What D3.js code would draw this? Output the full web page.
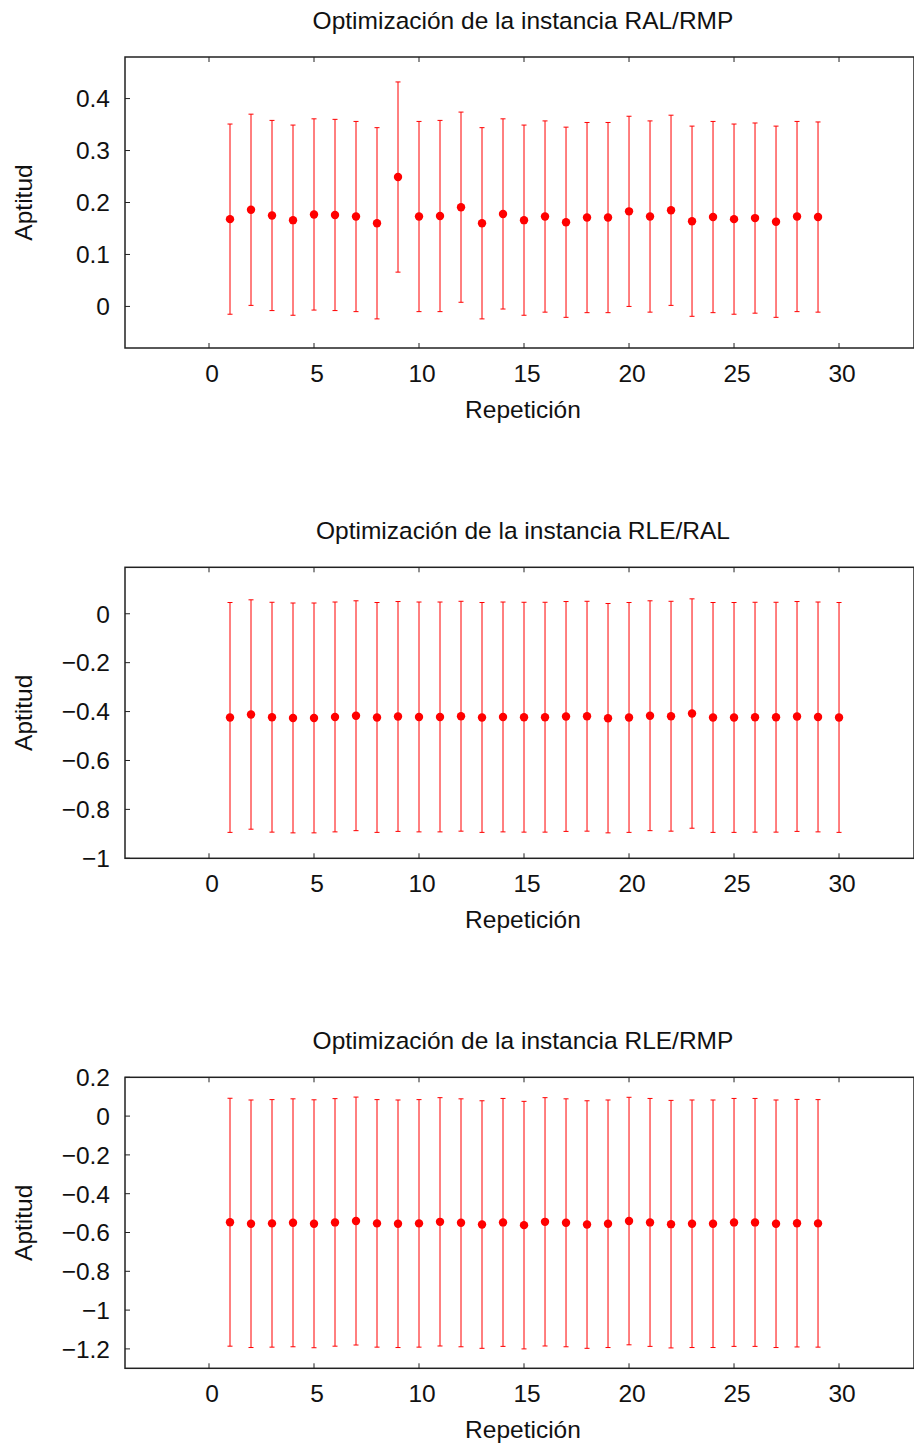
<!DOCTYPE html>
<html>
<head>
<meta charset="utf-8">
<script src="https://cdn.jsdelivr.net/npm/d3@7"></script>
<style>
  body { margin: 0; background: #fff; }
  text { font-family: "Liberation Sans", Arial, sans-serif; fill: #111; font-size: 24.5px; }
</style>
</head>
<body>
<div id="a"></div>
<script>
// repeticiones (eje x)
var reps29 = [1,2,3,4,5,6,7,8,9,10,11,12,13,14,15,16,17,18,19,20,21,22,23,24,25,26,27,28,29],
    reps30 = [1,2,3,4,5,6,7,8,9,10,11,12,13,14,15,16,17,18,19,20,21,22,23,24,25,26,27,28,29,30];

// RAL/RMP
var ralRmpMean = [0.168,0.186,0.175,0.166,0.177,0.176,0.173,0.160,0.249,0.173,0.174,0.191,0.160,0.178,0.166,0.173,0.162,0.171,0.171,0.183,0.173,0.185,0.164,0.172,0.168,0.170,0.163,0.173,0.172],
    ralRmpErr  = [0.183,0.184,0.183,0.183,0.184,0.184,0.183,0.184,0.183,0.183,0.184,0.183,0.184,0.183,0.183,0.184,0.183,0.183,0.183,0.183,0.184,0.183,0.183,0.184,0.183,0.183,0.184,0.183,0.183];

// RLE/RAL
var rleRalMean = [-0.424,-0.412,-0.423,-0.426,-0.426,-0.422,-0.417,-0.424,-0.420,-0.422,-0.422,-0.419,-0.424,-0.422,-0.423,-0.423,-0.420,-0.419,-0.427,-0.424,-0.417,-0.419,-0.408,-0.424,-0.424,-0.423,-0.423,-0.420,-0.422,-0.424],
    rleRalErr  = [0.470,0.469,0.470,0.470,0.470,0.470,0.470,0.470,0.470,0.470,0.470,0.470,0.470,0.470,0.470,0.470,0.470,0.470,0.469,0.470,0.470,0.470,0.469,0.470,0.470,0.470,0.470,0.470,0.470,0.470];

// RLE/RMP
var rleRmpMean = [-0.547,-0.555,-0.553,-0.550,-0.555,-0.548,-0.541,-0.553,-0.555,-0.553,-0.545,-0.550,-0.559,-0.548,-0.562,-0.545,-0.550,-0.559,-0.555,-0.541,-0.548,-0.557,-0.555,-0.555,-0.548,-0.548,-0.555,-0.552,-0.553],
    rleRmpErr  = [0.639,0.638,0.638,0.639,0.639,0.638,0.639,0.638,0.638,0.638,0.640,0.639,0.638,0.639,0.638,0.640,0.639,0.638,0.638,0.638,0.639,0.638,0.638,0.638,0.639,0.639,0.638,0.638,0.638];

var titles  = ["Optimización de la instancia RAL/RMP", "Optimización de la instancia RLE/RAL", "Optimización de la instancia RLE/RMP"],
    xTicks  = [0,5,10,15,20,25,30],
    yTicks1 = [0,0.1,0.2,0.3,0.4],
    yTicks2 = [-1,-0.8,-0.6,-0.4,-0.2,0],
    yTicks3 = [-1.2,-1,-0.8,-0.6,-0.4,-0.2,0,0.2],
    xLabel  = "Repetición",
    yLabel  = "Aptitud";

var W = 914, H = 1443;
var left = 125, right = 914, plotH = 291;

var svg = d3.select("#a").append("svg")
  .attr("width", W)
  .attr("height", H);

var x = d3.scaleLinear().domain([-4, 33.57]).range([left, right]);
var fmt = d3.format("~g");

var panels = [
  {top: 57,     dom: [-0.08, 0.48], ticks: yTicks1, reps: reps29, mean: ralRmpMean, err: ralRmpErr},
  {top: 567.3,  dom: [-1, 0.19],    ticks: yTicks2, reps: reps30, mean: rleRalMean, err: rleRalErr},
  {top: 1077.3, dom: [-1.3, 0.2],   ticks: yTicks3, reps: reps29, mean: rleRmpMean, err: rleRmpErr}
];

panels.forEach(function(p, k) {
  var y = d3.scaleLinear().domain(p.dom).range([p.top + plotH, p.top]);
  var g = svg.append("g");
  var bottom = p.top + plotH;

  // title
  g.append("text")
    .attr("x", 523).attr("y", p.top - 28)
    .attr("text-anchor", "middle")
    .text(titles[k]);

  // frame
  g.append("rect")
    .attr("x", left).attr("y", p.top)
    .attr("width", right - left).attr("height", plotH)
    .attr("fill", "none").attr("stroke", "#222").attr("stroke-width", 1.5);

  // x ticks (bottom + mirrored top)
  xTicks.forEach(function(t) {
    g.append("line").attr("x1", x(t)).attr("x2", x(t))
      .attr("y1", bottom).attr("y2", bottom - 5)
      .attr("stroke", "#222").attr("stroke-width", 1);
    g.append("line").attr("x1", x(t)).attr("x2", x(t))
      .attr("y1", p.top).attr("y2", p.top + 5)
      .attr("stroke", "#222").attr("stroke-width", 1);
    g.append("text")
      .attr("x", x(t) + 3).attr("y", bottom + 34)
      .attr("text-anchor", "middle")
      .text(fmt(t));
  });

  // y ticks
  p.ticks.forEach(function(t) {
    g.append("line").attr("x1", left).attr("x2", left + 5)
      .attr("y1", y(t)).attr("y2", y(t))
      .attr("stroke", "#222").attr("stroke-width", 1);
    g.append("text")
      .attr("x", 110).attr("y", y(t))
      .attr("dy", "0.36em")
      .attr("text-anchor", "end")
      .text(fmt(t));
  });

  // axis labels
  g.append("text")
    .attr("x", 523).attr("y", bottom + 70)
    .attr("text-anchor", "middle")
    .text(xLabel);

  g.append("text")
    .attr("transform", "translate(32," + (p.top + plotH / 2) + ") rotate(-90)")
    .attr("text-anchor", "middle")
    .text(yLabel);

  // error bars
  var bars = g.selectAll(".bar")
    .data(p.reps.map(function(r, i) { return {r: r, m: p.mean[i], e: p.err[i]}; }))
    .enter().append("g").attr("class", "bar");

  bars.append("line")
    .attr("x1", function(d) { return x(d.r); })
    .attr("x2", function(d) { return x(d.r); })
    .attr("y1", function(d) { return y(d.m - d.e); })
    .attr("y2", function(d) { return y(d.m + d.e); })
    .attr("stroke", "#f00").attr("stroke-width", 1);

  bars.append("line")
    .attr("x1", function(d) { return x(d.r) - 2.5; })
    .attr("x2", function(d) { return x(d.r) + 2.5; })
    .attr("y1", function(d) { return y(d.m + d.e); })
    .attr("y2", function(d) { return y(d.m + d.e); })
    .attr("stroke", "#f00").attr("stroke-width", 1);

  bars.append("line")
    .attr("x1", function(d) { return x(d.r) - 2.5; })
    .attr("x2", function(d) { return x(d.r) + 2.5; })
    .attr("y1", function(d) { return y(d.m - d.e); })
    .attr("y2", function(d) { return y(d.m - d.e); })
    .attr("stroke", "#f00").attr("stroke-width", 1);

  bars.append("circle")
    .attr("cx", function(d) { return x(d.r); })
    .attr("cy", function(d) { return y(d.m); })
    .attr("r", 4.2)
    .attr("fill", "#f00");
});
</script>
</body>
</html>
